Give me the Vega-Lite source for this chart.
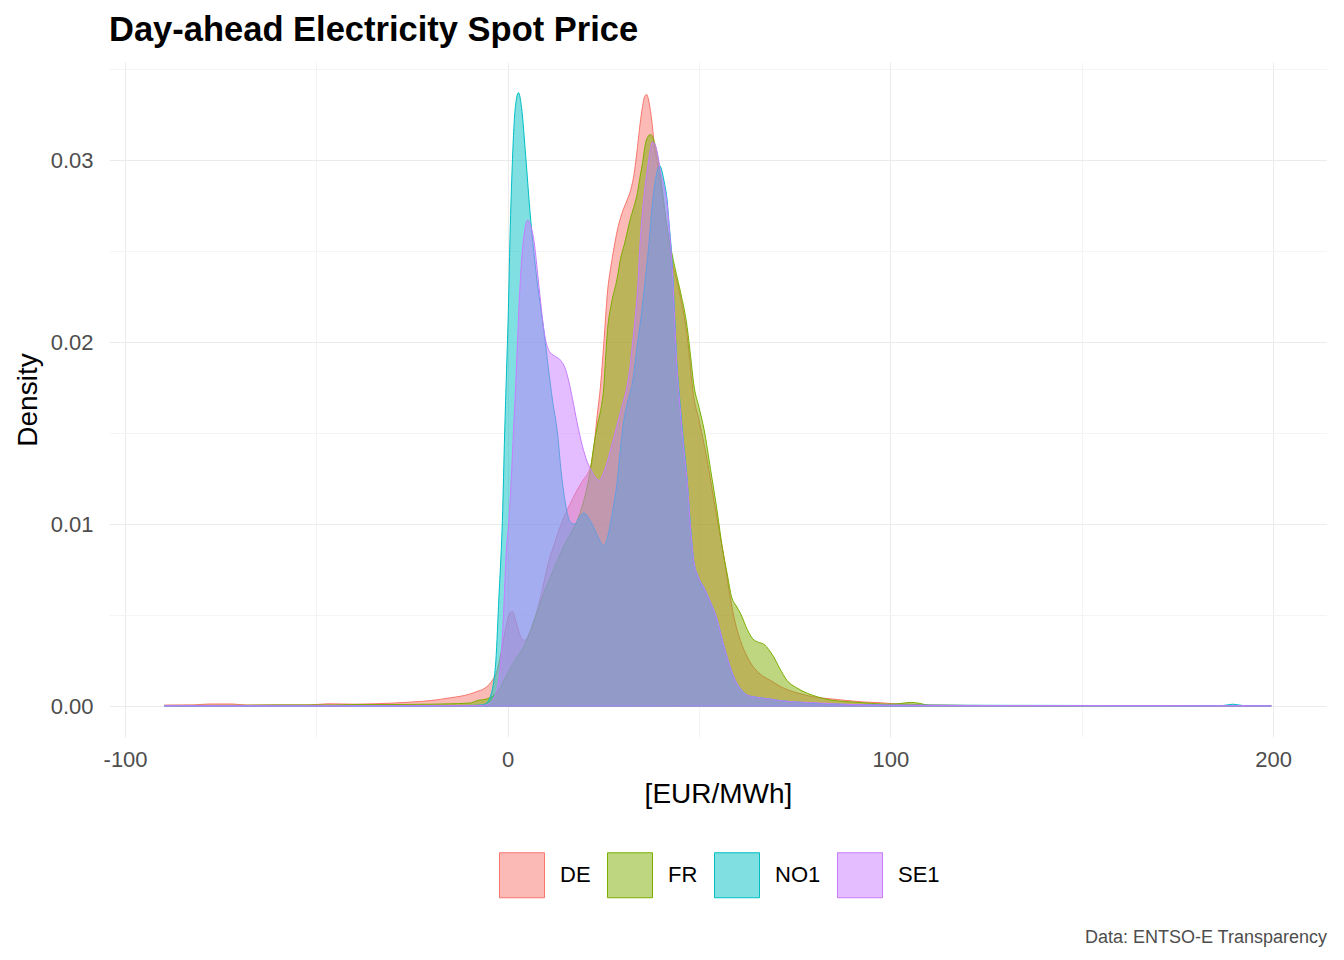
{
  "$schema": "https://vega.github.io/schema/vega-lite/v6.json",
  "background": "white",
  "padding": {"left": 14, "top": 12, "right": 0, "bottom": 0},
  "config": {
    "view": {"stroke": null},
    "font": "Liberation Sans",
    "axis": {"domain": false, "ticks": false, "labelColor": "#4D4D4D", "labelFontSize": 22, "labelFont": "Liberation Sans", "titleFont": "Liberation Sans", "titleFontSize": 28, "titleFontWeight": "normal", "titleColor": "#000000", "gridColor": "#EBEBEB", "labelOverlap": false}
  },
  "title": {"text": "Data: ENTSO-E Transparency", "orient": "bottom", "anchor": "end", "fontSize": 18, "fontWeight": "normal", "color": "#4D4D4D", "font": "Liberation Sans", "offset": 29},
  "vconcat": [
    {
      "title": {"text": "Day-ahead Electricity Spot Price", "anchor": "start", "frame": "group", "fontSize": 34.5, "fontWeight": "bold", "color": "#000000", "font": "Liberation Sans", "offset": 10},
      "width": 1218,
      "height": 675,
      "data": {"values": [
        {"g":"DE","x":-89.7,"y":0.00005},{"g":"DE","x":-82,"y":0.00006},{"g":"DE","x":-78,"y":0.00011},{"g":"DE","x":-72,"y":0.00011},{"g":"DE","x":-68,"y":0.00005},{"g":"DE","x":-60,"y":0.00006},{"g":"DE","x":-52,"y":0.00006},{"g":"DE","x":-47,"y":0.00012},{"g":"DE","x":-40,"y":0.0001},{"g":"DE","x":-35,"y":0.00012},{"g":"DE","x":-30,"y":0.00016},{"g":"DE","x":-25,"y":0.00022},{"g":"DE","x":-20,"y":0.0003},{"g":"DE","x":-15,"y":0.00045},{"g":"DE","x":-12,"y":0.00055},{"g":"DE","x":-10,"y":0.00065},{"g":"DE","x":-8,"y":0.0008},{"g":"DE","x":-6.2,"y":0.00095},{"g":"DE","x":-4.4,"y":0.0013},{"g":"DE","x":-2.7,"y":0.002},{"g":"DE","x":-1.5,"y":0.0032},{"g":"DE","x":-0.5,"y":0.0043},{"g":"DE","x":0.5,"y":0.0051},{"g":"DE","x":1.2,"y":0.0052},{"g":"DE","x":2.2,"y":0.0046},{"g":"DE","x":3.2,"y":0.0039},{"g":"DE","x":4.3,"y":0.0036},{"g":"DE","x":5.5,"y":0.0039},{"g":"DE","x":7,"y":0.0047},{"g":"DE","x":8.5,"y":0.0059},{"g":"DE","x":10.8,"y":0.008},{"g":"DE","x":12.5,"y":0.0091},{"g":"DE","x":13.8,"y":0.0099},{"g":"DE","x":15.6,"y":0.0108},{"g":"DE","x":17,"y":0.0114},{"g":"DE","x":18.5,"y":0.012},{"g":"DE","x":20,"y":0.0125},{"g":"DE","x":21,"y":0.0128},{"g":"DE","x":21.7,"y":0.0132},{"g":"DE","x":22.5,"y":0.0142},{"g":"DE","x":23.3,"y":0.0158},{"g":"DE","x":24.3,"y":0.0177},{"g":"DE","x":25.1,"y":0.0199},{"g":"DE","x":26.1,"y":0.0228},{"g":"DE","x":27,"y":0.0242},{"g":"DE","x":27.8,"y":0.0252},{"g":"DE","x":28.6,"y":0.0261},{"g":"DE","x":29.9,"y":0.0271},{"g":"DE","x":31.2,"y":0.0278},{"g":"DE","x":32.2,"y":0.0284},{"g":"DE","x":33,"y":0.0292},{"g":"DE","x":33.9,"y":0.0307},{"g":"DE","x":34.6,"y":0.032},{"g":"DE","x":35.2,"y":0.0329},{"g":"DE","x":35.8,"y":0.0335},{"g":"DE","x":36.3,"y":0.0336},{"g":"DE","x":36.8,"y":0.0333},{"g":"DE","x":37.5,"y":0.0324},{"g":"DE","x":38.4,"y":0.0307},{"g":"DE","x":39.5,"y":0.0294},{"g":"DE","x":41,"y":0.0272},{"g":"DE","x":42.6,"y":0.0248},{"g":"DE","x":44,"y":0.0235},{"g":"DE","x":45.2,"y":0.0224},{"g":"DE","x":46.9,"y":0.0203},{"g":"DE","x":48.6,"y":0.017},{"g":"DE","x":50,"y":0.0157},{"g":"DE","x":51.3,"y":0.0144},{"g":"DE","x":52.7,"y":0.0128},{"g":"DE","x":53.9,"y":0.0113},{"g":"DE","x":55.2,"y":0.0097},{"g":"DE","x":56.5,"y":0.0082},{"g":"DE","x":57.8,"y":0.0064},{"g":"DE","x":59.1,"y":0.0049},{"g":"DE","x":60.8,"y":0.0036},{"g":"DE","x":62.6,"y":0.0027},{"g":"DE","x":64,"y":0.0022},{"g":"DE","x":65.2,"y":0.0019},{"g":"DE","x":67,"y":0.0016},{"g":"DE","x":68.7,"y":0.0014},{"g":"DE","x":71,"y":0.0011},{"g":"DE","x":73,"y":0.0009},{"g":"DE","x":76,"y":0.0007},{"g":"DE","x":80,"y":0.0005},{"g":"DE","x":84,"y":0.0004},{"g":"DE","x":88.7,"y":0.0003},{"g":"DE","x":93,"y":0.00022},{"g":"DE","x":97.4,"y":0.00018},{"g":"DE","x":101,"y":0.00012},{"g":"DE","x":105,"y":0.0001},{"g":"DE","x":110,"y":0.00005},{"g":"DE","x":120,"y":0.00003},{"g":"DE","x":140,"y":0.00002},{"g":"DE","x":160,"y":0.00001},{"g":"DE","x":180,"y":0.00001},{"g":"DE","x":199.5,"y":0.00001},
        {"g":"FR","x":-89.7,"y":0.00003},{"g":"FR","x":-70,"y":0.00004},{"g":"FR","x":-60,"y":0.00006},{"g":"FR","x":-45,"y":0.00006},{"g":"FR","x":-40,"y":0.00008},{"g":"FR","x":-30,"y":0.00008},{"g":"FR","x":-20,"y":0.0001},{"g":"FR","x":-15,"y":0.00012},{"g":"FR","x":-10,"y":0.00016},{"g":"FR","x":-7.9,"y":0.0003},{"g":"FR","x":-5.3,"y":0.0004},{"g":"FR","x":-3.5,"y":0.0006},{"g":"FR","x":-2,"y":0.001},{"g":"FR","x":-1,"y":0.0014},{"g":"FR","x":0,"y":0.0018},{"g":"FR","x":1,"y":0.0022},{"g":"FR","x":2.5,"y":0.0027},{"g":"FR","x":4.3,"y":0.0033},{"g":"FR","x":6,"y":0.0042},{"g":"FR","x":8,"y":0.0054},{"g":"FR","x":10,"y":0.0065},{"g":"FR","x":11.2,"y":0.0071},{"g":"FR","x":13,"y":0.008},{"g":"FR","x":14.7,"y":0.0088},{"g":"FR","x":16.5,"y":0.0095},{"g":"FR","x":18.2,"y":0.0102},{"g":"FR","x":19.5,"y":0.011},{"g":"FR","x":20.6,"y":0.0119},{"g":"FR","x":21.7,"y":0.0131},{"g":"FR","x":22.5,"y":0.0143},{"g":"FR","x":23.5,"y":0.0155},{"g":"FR","x":24.5,"y":0.0165},{"g":"FR","x":25.1,"y":0.0175},{"g":"FR","x":25.6,"y":0.0192},{"g":"FR","x":26.1,"y":0.0207},{"g":"FR","x":27,"y":0.022},{"g":"FR","x":28.6,"y":0.0235},{"g":"FR","x":29.5,"y":0.0246},{"g":"FR","x":30.4,"y":0.0253},{"g":"FR","x":32.1,"y":0.0268},{"g":"FR","x":33.2,"y":0.0276},{"g":"FR","x":33.9,"y":0.0282},{"g":"FR","x":34.6,"y":0.0291},{"g":"FR","x":35.2,"y":0.0298},{"g":"FR","x":36,"y":0.0309},{"g":"FR","x":36.7,"y":0.0313},{"g":"FR","x":37.3,"y":0.0314},{"g":"FR","x":37.8,"y":0.0313},{"g":"FR","x":38.3,"y":0.031},{"g":"FR","x":39.5,"y":0.0298},{"g":"FR","x":40.5,"y":0.0282},{"g":"FR","x":41.5,"y":0.0265},{"g":"FR","x":42.6,"y":0.0252},{"g":"FR","x":44,"y":0.0238},{"g":"FR","x":45.2,"y":0.0227},{"g":"FR","x":46.9,"y":0.0208},{"g":"FR","x":47.8,"y":0.0192},{"g":"FR","x":48.6,"y":0.0177},{"g":"FR","x":50,"y":0.0164},{"g":"FR","x":51.3,"y":0.0152},{"g":"FR","x":53,"y":0.013},{"g":"FR","x":54.8,"y":0.0106},{"g":"FR","x":56,"y":0.0088},{"g":"FR","x":57.4,"y":0.0072},{"g":"FR","x":58.5,"y":0.006},{"g":"FR","x":59.7,"y":0.0055},{"g":"FR","x":60.8,"y":0.0051},{"g":"FR","x":62.6,"y":0.0042},{"g":"FR","x":64,"y":0.0037},{"g":"FR","x":65.5,"y":0.0035},{"g":"FR","x":66.9,"y":0.0034},{"g":"FR","x":68.2,"y":0.0031},{"g":"FR","x":69.5,"y":0.0027},{"g":"FR","x":71,"y":0.0021},{"g":"FR","x":73,"y":0.0014},{"g":"FR","x":75.5,"y":0.001},{"g":"FR","x":78.3,"y":0.0007},{"g":"FR","x":81,"y":0.0005},{"g":"FR","x":84.3,"y":0.00033},{"g":"FR","x":88,"y":0.00025},{"g":"FR","x":93,"y":0.00018},{"g":"FR","x":99,"y":0.0001},{"g":"FR","x":102,"y":0.00012},{"g":"FR","x":105.2,"y":0.0002},{"g":"FR","x":107.5,"y":0.00015},{"g":"FR","x":110,"y":0.00005},{"g":"FR","x":120,"y":0.00003},{"g":"FR","x":140,"y":0.00002},{"g":"FR","x":160,"y":0.00001},{"g":"FR","x":199.5,"y":0.00001},
        {"g":"NO1","x":-89.7,"y":0.00001},{"g":"NO1","x":-60,"y":0.00001},{"g":"NO1","x":-30,"y":0.00001},{"g":"NO1","x":-15,"y":0.00002},{"g":"NO1","x":-8,"y":0.00004},{"g":"NO1","x":-6,"y":0.0001},{"g":"NO1","x":-5,"y":0.0003},{"g":"NO1","x":-4.4,"y":0.0006},{"g":"NO1","x":-3.7,"y":0.0013},{"g":"NO1","x":-3.1,"y":0.0025},{"g":"NO1","x":-2.3,"y":0.006},{"g":"NO1","x":-1.4,"y":0.0102},{"g":"NO1","x":-0.8,"y":0.015},{"g":"NO1","x":-0.3,"y":0.0185},{"g":"NO1","x":0.1,"y":0.0212},{"g":"NO1","x":0.6,"y":0.0258},{"g":"NO1","x":1.2,"y":0.0298},{"g":"NO1","x":1.9,"y":0.0327},{"g":"NO1","x":2.8,"y":0.0337},{"g":"NO1","x":3.6,"y":0.0329},{"g":"NO1","x":4.7,"y":0.0302},{"g":"NO1","x":5.8,"y":0.0272},{"g":"NO1","x":6.8,"y":0.025},{"g":"NO1","x":7.7,"y":0.0233},{"g":"NO1","x":8.6,"y":0.0219},{"g":"NO1","x":9.5,"y":0.0205},{"g":"NO1","x":10.6,"y":0.0186},{"g":"NO1","x":11.7,"y":0.0168},{"g":"NO1","x":13,"y":0.015},{"g":"NO1","x":14,"y":0.0128},{"g":"NO1","x":15.1,"y":0.0111},{"g":"NO1","x":16.4,"y":0.0101},{"g":"NO1","x":17.5,"y":0.01},{"g":"NO1","x":18.8,"y":0.0104},{"g":"NO1","x":19.9,"y":0.0106},{"g":"NO1","x":21.2,"y":0.0103},{"g":"NO1","x":22.5,"y":0.0098},{"g":"NO1","x":23.8,"y":0.0092},{"g":"NO1","x":25,"y":0.0088},{"g":"NO1","x":26,"y":0.0092},{"g":"NO1","x":26.9,"y":0.0101},{"g":"NO1","x":27.8,"y":0.0112},{"g":"NO1","x":28.6,"y":0.0123},{"g":"NO1","x":29.4,"y":0.014},{"g":"NO1","x":30.2,"y":0.0155},{"g":"NO1","x":31.2,"y":0.0166},{"g":"NO1","x":32.6,"y":0.0178},{"g":"NO1","x":33.9,"y":0.0199},{"g":"NO1","x":34.8,"y":0.0213},{"g":"NO1","x":35.6,"y":0.0228},{"g":"NO1","x":36.9,"y":0.0254},{"g":"NO1","x":37.8,"y":0.0276},{"g":"NO1","x":38.6,"y":0.0289},{"g":"NO1","x":39.2,"y":0.0295},{"g":"NO1","x":39.7,"y":0.0297},{"g":"NO1","x":40.3,"y":0.0294},{"g":"NO1","x":40.8,"y":0.0289},{"g":"NO1","x":41.7,"y":0.0277},{"g":"NO1","x":42.2,"y":0.0264},{"g":"NO1","x":42.6,"y":0.0255},{"g":"NO1","x":43.1,"y":0.0238},{"g":"NO1","x":43.6,"y":0.0215},{"g":"NO1","x":44.3,"y":0.0185},{"g":"NO1","x":44.8,"y":0.0172},{"g":"NO1","x":45.8,"y":0.0148},{"g":"NO1","x":46.9,"y":0.0124},{"g":"NO1","x":47.8,"y":0.0098},{"g":"NO1","x":48.6,"y":0.008},{"g":"NO1","x":49.8,"y":0.0071},{"g":"NO1","x":51.3,"y":0.0065},{"g":"NO1","x":53,"y":0.0057},{"g":"NO1","x":54.5,"y":0.0049},{"g":"NO1","x":56.5,"y":0.0033},{"g":"NO1","x":58.2,"y":0.0021},{"g":"NO1","x":59.5,"y":0.0014},{"g":"NO1","x":61,"y":0.0009},{"g":"NO1","x":62.6,"y":0.0006},{"g":"NO1","x":65,"y":0.00048},{"g":"NO1","x":68,"y":0.0004},{"g":"NO1","x":71,"y":0.0003},{"g":"NO1","x":74,"y":0.00024},{"g":"NO1","x":80,"y":0.00015},{"g":"NO1","x":90,"y":0.00008},{"g":"NO1","x":100,"y":0.00005},{"g":"NO1","x":120,"y":0.00004},{"g":"NO1","x":150,"y":0.00003},{"g":"NO1","x":180,"y":0.00002},{"g":"NO1","x":187,"y":0.00003},{"g":"NO1","x":189.5,"y":0.0001},{"g":"NO1","x":192,"y":0.00003},{"g":"NO1","x":199.5,"y":0.00001},
        {"g":"SE1","x":-89.7,"y":0.00001},{"g":"SE1","x":-60,"y":0.00001},{"g":"SE1","x":-30,"y":0.00001},{"g":"SE1","x":-10,"y":0.00002},{"g":"SE1","x":-6,"y":0.00005},{"g":"SE1","x":-4.5,"y":0.0002},{"g":"SE1","x":-3.5,"y":0.0005},{"g":"SE1","x":-2.5,"y":0.0012},{"g":"SE1","x":-1.8,"y":0.0025},{"g":"SE1","x":-1,"y":0.0055},{"g":"SE1","x":-0.5,"y":0.008},{"g":"SE1","x":0.3,"y":0.0102},{"g":"SE1","x":1,"y":0.0128},{"g":"SE1","x":1.6,"y":0.0155},{"g":"SE1","x":2.2,"y":0.0182},{"g":"SE1","x":3,"y":0.0222},{"g":"SE1","x":3.7,"y":0.0247},{"g":"SE1","x":4.5,"y":0.0262},{"g":"SE1","x":5.2,"y":0.0267},{"g":"SE1","x":5.8,"y":0.0265},{"g":"SE1","x":6.9,"y":0.0255},{"g":"SE1","x":7.8,"y":0.0238},{"g":"SE1","x":8.6,"y":0.0222},{"g":"SE1","x":9.3,"y":0.0209},{"g":"SE1","x":9.9,"y":0.0201},{"g":"SE1","x":10.6,"y":0.0196},{"g":"SE1","x":11.2,"y":0.0194},{"g":"SE1","x":12.5,"y":0.0192},{"g":"SE1","x":13.8,"y":0.019},{"g":"SE1","x":15.1,"y":0.0185},{"g":"SE1","x":16,"y":0.0178},{"g":"SE1","x":16.9,"y":0.0169},{"g":"SE1","x":18.2,"y":0.0155},{"g":"SE1","x":19.5,"y":0.0143},{"g":"SE1","x":20.8,"y":0.0134},{"g":"SE1","x":21.7,"y":0.013},{"g":"SE1","x":22.8,"y":0.0126},{"g":"SE1","x":23.9,"y":0.0124},{"g":"SE1","x":25,"y":0.0128},{"g":"SE1","x":26,"y":0.0134},{"g":"SE1","x":26.9,"y":0.0141},{"g":"SE1","x":28.4,"y":0.0153},{"g":"SE1","x":29.9,"y":0.0165},{"g":"SE1","x":31.2,"y":0.0176},{"g":"SE1","x":32,"y":0.0187},{"g":"SE1","x":32.6,"y":0.0199},{"g":"SE1","x":33.3,"y":0.0213},{"g":"SE1","x":33.9,"y":0.0228},{"g":"SE1","x":34.7,"y":0.0258},{"g":"SE1","x":35.6,"y":0.028},{"g":"SE1","x":36.5,"y":0.0295},{"g":"SE1","x":37.2,"y":0.0305},{"g":"SE1","x":37.8,"y":0.031},{"g":"SE1","x":38.4,"y":0.0309},{"g":"SE1","x":39.1,"y":0.0304},{"g":"SE1","x":40,"y":0.0293},{"g":"SE1","x":40.8,"y":0.0286},{"g":"SE1","x":41.7,"y":0.0275},{"g":"SE1","x":42.2,"y":0.0263},{"g":"SE1","x":42.6,"y":0.0253},{"g":"SE1","x":43.1,"y":0.0236},{"g":"SE1","x":43.6,"y":0.0213},{"g":"SE1","x":44.3,"y":0.0183},{"g":"SE1","x":44.8,"y":0.017},{"g":"SE1","x":45.8,"y":0.0146},{"g":"SE1","x":46.9,"y":0.0123},{"g":"SE1","x":47.8,"y":0.0097},{"g":"SE1","x":48.6,"y":0.008},{"g":"SE1","x":49.8,"y":0.0071},{"g":"SE1","x":51.3,"y":0.0065},{"g":"SE1","x":53,"y":0.0057},{"g":"SE1","x":54.5,"y":0.0049},{"g":"SE1","x":56.5,"y":0.0033},{"g":"SE1","x":58.2,"y":0.0021},{"g":"SE1","x":59.5,"y":0.0014},{"g":"SE1","x":61,"y":0.0009},{"g":"SE1","x":62.6,"y":0.0006},{"g":"SE1","x":65,"y":0.00048},{"g":"SE1","x":68,"y":0.0004},{"g":"SE1","x":71,"y":0.0003},{"g":"SE1","x":74,"y":0.00024},{"g":"SE1","x":80,"y":0.00018},{"g":"SE1","x":85,"y":0.00012},{"g":"SE1","x":90,"y":0.00008},{"g":"SE1","x":100,"y":0.00005},{"g":"SE1","x":120,"y":0.00003},{"g":"SE1","x":150,"y":0.00002},{"g":"SE1","x":199.5,"y":0.00001}
      ]},
      "mark": {"type": "area", "fillOpacity": 0.5, "strokeWidth": 1, "interpolate": "monotone", "clip": true},
      "encoding": {
        "x": {"field": "x", "type": "quantitative", "scale": {"domain": [-104.2, 214.1], "nice": false, "zero": false},
          "axis": {"title": "[EUR/MWh]", "values": [-100, -50, 0, 50, 100, 150, 200], "labelExpr": "datum.value % 100 === 0 ? toString(datum.value) : ''", "labelFlush": false, "labelPadding": 12, "titlePadding": 10,
            "gridColor": {"condition": {"test": "datum.value % 100 !== 0", "value": "#F4F4F4"}, "value": "#EBEBEB"}}},
        "y": {"field": "y", "type": "quantitative", "scale": {"domain": [-0.001703, 0.035385], "nice": false, "zero": false},
          "axis": {"title": "Density", "values": [0, 0.005, 0.01, 0.015, 0.02, 0.025, 0.03, 0.035], "labelExpr": "round(datum.value * 1000) % 10 === 0 ? format(datum.value, '.2f') : ''", "labelPadding": 16, "titlePadding": 8,
            "gridColor": {"condition": {"test": "round(datum.value * 1000) % 10 !== 0", "value": "#F4F4F4"}, "value": "#EBEBEB"}}},
        "y2": {"datum": 0},
        "fill": {"field": "g", "type": "nominal", "scale": {"domain": ["DE", "FR", "NO1", "SE1"], "range": ["#F8766D", "#7CAE00", "#00BFC4", "#C77CFF"]},
          "legend": {"title": null, "orient": "none", "legendX": 390, "legendY": 790, "direction": "horizontal", "symbolType": "square", "symbolSize": 2025, "symbolStrokeWidth": 1, "labelFontSize": 22, "labelColor": "#000000", "labelFont": "Liberation Sans", "labelOffset": 15, "columnPadding": 14, "padding": 0,
            "encode": {"symbols": {"update": {"fillOpacity": {"value": 0.5}, "strokeOpacity": {"value": 1}}}}}},
        "stroke": {"field": "g", "type": "nominal", "scale": {"domain": ["DE", "FR", "NO1", "SE1"], "range": ["#F8766D", "#7CAE00", "#00BFC4", "#C77CFF"]},
          "legend": {"title": null, "orient": "none", "legendX": 390, "legendY": 790, "direction": "horizontal", "symbolType": "square", "symbolSize": 2025, "symbolStrokeWidth": 1, "labelFontSize": 22, "labelColor": "#000000", "labelFont": "Liberation Sans", "labelOffset": 15, "columnPadding": 14, "padding": 0,
            "encode": {"symbols": {"update": {"fillOpacity": {"value": 0.5}, "strokeOpacity": {"value": 1}}}}}}
      }
    }
  ]
}
